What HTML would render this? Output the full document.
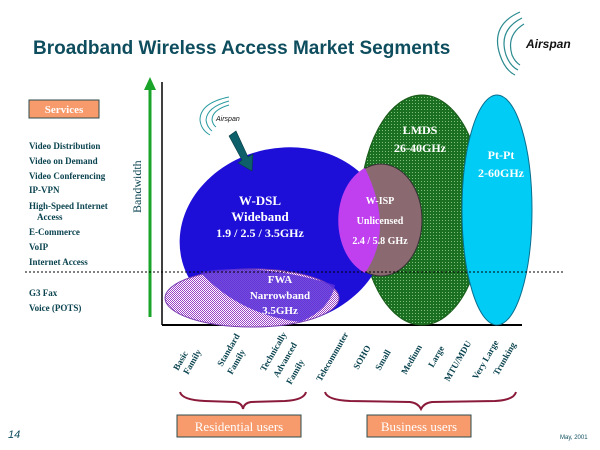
<!DOCTYPE html>
<html><head><meta charset="utf-8"><style>
html,body{margin:0;padding:0;background:#fff;}
svg{display:block;}
.s{font-family:"Liberation Serif",serif;font-weight:bold;font-size:9px;fill:#0b4450;}
.w{font-family:"Liberation Serif",serif;font-weight:bold;fill:#fff;text-anchor:middle;}
.x{font-family:"Liberation Serif",serif;font-weight:bold;font-size:9px;fill:#0b4450;}
</style></head><body>
<svg width="600" height="450" viewBox="0 0 600 450" xmlns="http://www.w3.org/2000/svg">
<defs>
<pattern id="dots" width="3" height="3" patternUnits="userSpaceOnUse">
<rect width="3" height="3" fill="#1a7020"/><rect x="1" y="1" width="1" height="1" fill="#7fbf7f"/>
</pattern>
<pattern id="chk" width="2" height="2" patternUnits="userSpaceOnUse">
<rect width="2" height="2" fill="#fff"/><rect width="1" height="1" fill="#9a40c8"/><rect x="1" y="1" width="1" height="1" fill="#9a40c8"/>
</pattern>
</defs>
<text x="33" y="54" font-family="Liberation Sans,sans-serif" font-weight="bold" font-size="19" fill="#0e4d5e">Broadband Wireless Access Market Segments</text>
<g fill="none" stroke="#2a8a90" stroke-width="1.2">
<path d="M520 12 Q490 25 500 55 Q505 70 515 75"/>
<path d="M522 18 Q498 30 506 55 Q510 66 518 70"/>
<path d="M524 24 Q506 35 512 55 Q515 62 520 65"/>
</g>
<text x="526" y="48" font-family="Liberation Sans,sans-serif" font-style="italic" font-weight="bold" font-size="12" fill="#111">Airspan</text>
<line x1="150" y1="88" x2="150" y2="317" stroke="#1aa52a" stroke-width="3"/>
<polygon points="150,77 144,90 156,90" fill="#1aa52a"/>
<line x1="162" y1="82" x2="162" y2="325" stroke="#000" stroke-width="1.5"/>
<line x1="162" y1="325" x2="522" y2="325" stroke="#000" stroke-width="2"/>
<rect x="29" y="100" width="70" height="18" fill="#f79a6c" stroke="#2d4d4d"/>
<text x="64" y="113" text-anchor="middle" font-family="Liberation Serif,serif" font-weight="bold" font-size="11" fill="#fff">Services</text>
<text class="s" x="29" y="149">Video Distribution</text>
<text class="s" x="29" y="164">Video on Demand</text>
<text class="s" x="29" y="179">Video Conferencing</text>
<text class="s" x="29" y="193">IP-VPN</text>
<text class="s" x="29" y="209">High-Speed Internet</text>
<text class="s" x="37" y="220">Access</text>
<text class="s" x="29" y="235">E-Commerce</text>
<text class="s" x="29" y="250">VoIP</text>
<text class="s" x="29" y="265">Internet Access</text>
<text class="s" x="29" y="296">G3 Fax</text>
<text class="s" x="29" y="311">Voice (POTS)</text>
<text x="0" y="0" transform="translate(141,213) rotate(-90)" font-family="Liberation Serif,serif" font-size="12" fill="#0b4450">Bandwidth</text>
<ellipse cx="422" cy="210" rx="62" ry="115" fill="url(#dots)" stroke="#1a5a1a"/>
<ellipse cx="497" cy="210" rx="35" ry="115" fill="#00ccf5" stroke="#0a7090"/>
<ellipse cx="283" cy="236" rx="104" ry="88" fill="#1e0fd8" transform="rotate(-12 283 236)"/>
<ellipse cx="252" cy="298" rx="87" ry="29" fill="url(#chk)" stroke="#7a40b0"/>
<path d="M200 272 Q260 262 335 285 Q330 310 300 322 Q240 315 200 272Z" fill="#5a30d8" opacity="0.85"/>
<ellipse cx="381" cy="220" rx="41" ry="56" fill="#8a6a70" stroke="#333"/>
<path d="M365 168 A41 56 0 0 0 365 273 Q395 230 365 168Z" fill="#c040f0"/>
<line x1="25" y1="272" x2="565" y2="272" stroke="#000" stroke-dasharray="2,2"/>
<g fill="none" stroke="#2a9aa0" stroke-width="1">
<path d="M229 97 Q200 103 200 120 Q201 130 210 135"/>
<path d="M229 101 Q207 107 206 120 Q207 127 212 131"/>
<path d="M229 105 Q212 110 212 120 Q213 125 216 127"/>
</g>
<text x="216" y="121" font-family="Liberation Sans,sans-serif" font-style="italic" font-size="7" fill="#111">Airspan</text>
<polygon points="229,136 236,131 248,157 253,154 252,171 238,163 242,160" fill="#0d5f6a" stroke="#083a40" stroke-width="0.6"/>
<text class="w" font-size="13" x="260" y="205">W-DSL</text>
<text class="w" font-size="13" x="260" y="221">Wideband</text>
<text class="w" font-size="12" x="260" y="237">1.9 / 2.5 / 3.5GHz</text>
<text class="w" font-size="11" x="280" y="283">FWA</text>
<text class="w" font-size="11" x="280" y="299">Narrowband</text>
<text class="w" font-size="11" x="280" y="314">3.5GHz</text>
<text class="w" font-size="10" x="380" y="204">W-ISP</text>
<text class="w" font-size="10" x="380" y="224">Unlicensed</text>
<text class="w" font-size="10" x="380" y="244">2.4 / 5.8 GHz</text>
<text class="w" font-size="12" x="420" y="134">LMDS</text>
<text class="w" font-size="12" x="420" y="152">26-40GHz</text>
<text class="w" font-size="12" x="501" y="159">Pt-Pt</text>
<text class="w" font-size="12" x="501" y="177">2-60GHz</text>
<g class="x">
<text transform="translate(178,371) rotate(-60)">Basic</text>
<text transform="translate(188,375) rotate(-60)">Family</text>
<text transform="translate(222,367) rotate(-60)">Standard</text>
<text transform="translate(232,375) rotate(-60)">Family</text>
<text transform="translate(265,372) rotate(-60)">Technically</text>
<text transform="translate(278,378) rotate(-60)">Advanced</text>
<text transform="translate(291,385) rotate(-60)">Family</text>
<text transform="translate(321,382) rotate(-60)">Telecommuter</text>
<text transform="translate(358,370) rotate(-60)">SOHO</text>
<text transform="translate(380,371) rotate(-60)">Small</text>
<text transform="translate(406,375) rotate(-60)">Medium</text>
<text transform="translate(433,368) rotate(-60)">Large</text>
<text transform="translate(449,382) rotate(-60)">MTU/MDU</text>
<text transform="translate(477,380) rotate(-60)">Very Large</text>
<text transform="translate(498,376) rotate(-60)">Trunking</text>
</g>
<path d="M180 392 Q182 400 205 401 L235 402 Q242 403 243 409 Q244 403 251 402 L285 401 Q304 400 306 392" fill="none" stroke="#8a1a3a" stroke-width="2"/>
<path d="M325 392 Q327 400 350 401 L410 402 Q418 403 421 409 Q424 403 432 402 L495 401 Q514 400 516 392" fill="none" stroke="#8a1a3a" stroke-width="2"/>
<rect x="177" y="415" width="124" height="22" fill="#f79a6c" stroke="#2d4d4d"/>
<text x="239" y="431" text-anchor="middle" font-family="Liberation Serif,serif" font-size="13" fill="#fff">Residential users</text>
<rect x="367" y="415" width="104" height="22" fill="#f79a6c" stroke="#2d4d4d"/>
<text x="419" y="431" text-anchor="middle" font-family="Liberation Serif,serif" font-size="13" fill="#fff">Business users</text>
<text x="8" y="438" font-family="Liberation Sans,sans-serif" font-style="italic" font-size="11" fill="#0e4d5e">14</text>
<text x="560" y="439" font-family="Liberation Sans,sans-serif" font-size="6" fill="#0e4d5e">May, 2001</text>
</svg>
</body></html>
